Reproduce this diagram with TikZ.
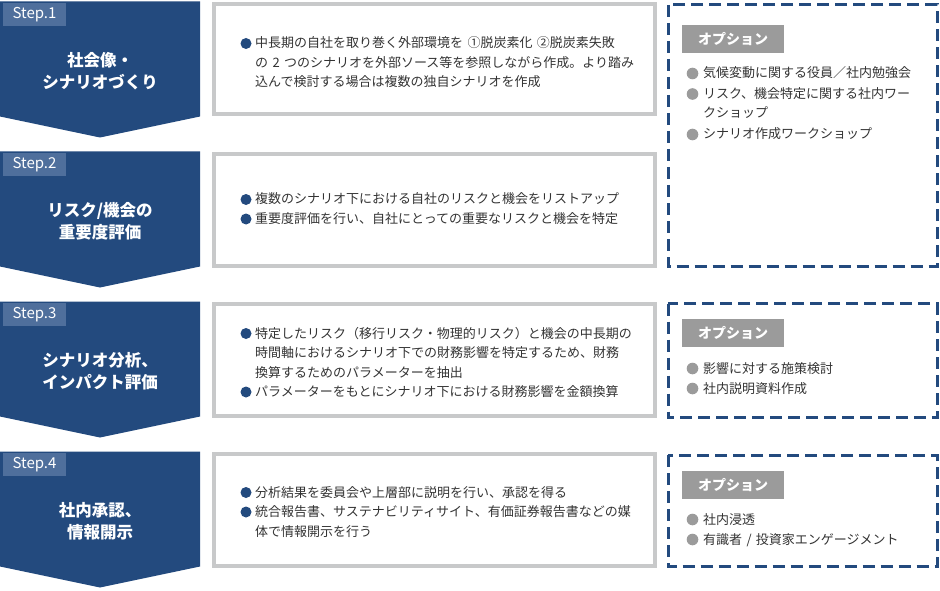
\documentclass[tikz,border=0pt]{standalone}
\usepackage{fontspec}
\setmainfont{Noto Sans CJK JP}
\usetikzlibrary{positioning}

\definecolor{stepblue}{HTML}{234A7E}
\definecolor{steptag}{HTML}{4F6F9C}
\definecolor{framegray}{HTML}{C8C9CA}
\definecolor{optgray}{HTML}{9B9B9B}
\definecolor{bodytext}{HTML}{333333}

\def\stepchevron(#1){\fill[stepblue] (0,#1+1.5) -- (200,#1+1.5) -- (200,#1+116.5) -- (100,#1+137.5) -- (0,#1+116.5) -- cycle;}
\def\bluedot(#1){\fill[stepblue] ([shift={(-9,-4.5)}]#1.base west) circle (5.5);}
\def\graydot(#1){\fill[optgray] ([shift={(-10.5,-4.5)}]#1.base west) circle (5.8);}

\tikzset{
  steptagbox/.style={fill=steptag, text=white, font=\fontsize{15}{15}\selectfont, minimum width=63, minimum height=23, inner sep=0pt},
  steptitle/.style={text=white, font=\bfseries\fontsize{16.5}{22}\selectfont, align=center, inner sep=0pt},
  midframe/.style={draw=framegray, line width=4pt},
  optframe/.style={draw=stepblue, line width=3pt, dash pattern=on 12pt off 6pt},
  opttag/.style={fill=optgray, text=white, font=\bfseries\fontsize{14}{14}\selectfont, minimum width=102, minimum height=28, inner sep=0pt},
  itemtext/.style={text=bodytext, font=\fontsize{13}{19.5}\selectfont, align=left, text width=390pt, inner sep=0pt, anchor=base west},
  opttext/.style={itemtext, text width=225pt}
}

\begin{document}
\begin{tikzpicture}[x=1pt, y=-1pt]
		\useasboundingbox (0,0) rectangle (940,591);
		
		%%%%% STEPS %%%%%
		\stepchevron(0)
		\stepchevron(150)
		\stepchevron(300)
		\stepchevron(450)
		
		\node[steptagbox] (tag1) at (34.5,14.5) {Step.1};
		\node[steptagbox] (tag2) at (34.5,164.5) {Step.2};
		\node[steptagbox] (tag3) at (34.5,314.5) {Step.3};
		\node[steptagbox] (tag4) at (34.5,464.5) {Step.4};
		
		\node[steptitle] (title1) at (100,71) {社会像・\\シナリオづくり};
		\node[steptitle] (title2) at (100,221) {リスク/機会の\\重要度評価};
		\node[steptitle] (title3) at (100,371) {シナリオ分析、\\インパクト評価};
		\node[steptitle] (title4) at (100,521) {社内承認、\\情報開示};
		
		%%%%% MIDDLE %%%%%
		\draw[midframe] (214,4) rectangle (654.5,114.5);
		\draw[midframe] (214,154) rectangle (654.5,265.5);
		\draw[midframe] (214,304) rectangle (654.5,415.5);
		\draw[midframe] (214,454) rectangle (654.5,565.5);
		
		\node[itemtext] (mid1a) at (255,48) {中長期の自社を取り巻く外部環境を ①脱炭素化 ②脱炭素失敗\\の 2 つのシナリオを外部ソース等を参照しながら作成。より踏み\\込んで検討する場合は複数の独自シナリオを作成};
		\bluedot(mid1a)
		
		\node[itemtext] (mid2a) at (255,204) {複数のシナリオ下における自社のリスクと機会をリストアップ};
		\node[itemtext] (mid2b) at (255,223.5) {重要度評価を行い、自社にとっての重要なリスクと機会を特定};
		\bluedot(mid2a)
		\bluedot(mid2b)
		
		\node[itemtext] (mid3a) at (255,338) {特定したリスク（移行リスク・物理的リスク）と機会の中長期の\\時間軸におけるシナリオ下での財務影響を特定するため、財務\\換算するためのパラメーターを抽出};
		\node[itemtext] (mid3b) at (255,396.5) {パラメーターをもとにシナリオ下における財務影響を金額換算};
		\bluedot(mid3a)
		\bluedot(mid3b)
		
		\node[itemtext] (mid4a) at (255,497) {分析結果を委員会や上層部に説明を行い、承認を得る};
		\node[itemtext] (mid4b) at (255,516.5) {統合報告書、サステナビリティサイト、有価証券報告書などの媒\\体で情報開示を行う};
		\bluedot(mid4a)
		\bluedot(mid4b)
		
		%%%%% OPTIONS %%%%%
		\draw[optframe] (668,5) rectangle (937,266.5);
		\draw[optframe] (668,303.5) rectangle (937,417.5);
		\draw[optframe] (668,455) rectangle (937,566.5);
		
		\node[opttag] (opt1) at (733,39) {オプション};
		\node[opttag] (opt3) at (733,333) {オプション};
		\node[opttag] (opt4) at (733,485) {オプション};
		
		\node[opttext] (opt1a) at (703,78) {気候変動に関する役員／社内勉強会};
		\node[opttext] (opt1b) at (703,98.5) {リスク、機会特定に関する社内ワー\\クショップ};
		\node[opttext] (opt1c) at (703,139) {シナリオ作成ワークショップ};
		\graydot(opt1a)
		\graydot(opt1b)
		\graydot(opt1c)
		
		\node[opttext] (opt3a) at (703,373) {影響に対する施策検討};
		\node[opttext] (opt3b) at (703,393) {社内説明資料作成};
		\graydot(opt3a)
		\graydot(opt3b)
		
		\node[opttext] (opt4a) at (703,524) {社内浸透};
		\node[opttext] (opt4b) at (703,544) {有識者 / 投資家エンゲージメント};
		\graydot(opt4a)
		\graydot(opt4b)
		
	\end{tikzpicture}
\end{document}
